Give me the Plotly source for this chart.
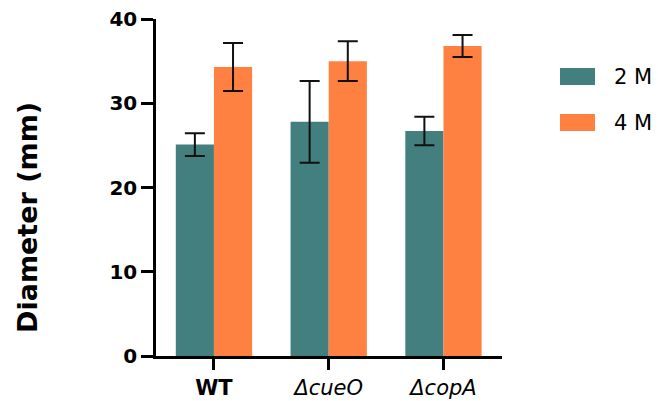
import plotly.graph_objects as go

categories = ["WT", "ΔcueO", "ΔcopA"]
tick_labels = ["<b>WT</b>", "<i>ΔcueO</i>", "<i>ΔcopA</i>"]
series_names = ["2 M", "4 M"]
means_2M = [25.1, 27.8, 26.7]
err_2M = [1.35, 4.85, 1.7]
means_4M = [34.3, 35.0, 36.8]
err_4M = [2.85, 2.35, 1.3]
y_ticks = [0, 10, 20, 30, 40]
y_title = "Diameter (mm)"

colors = ["#427F7E", "#FF8142"]
FONT = "DejaVu Sans"

fig = go.Figure()
for name, vals, errs, col in [(series_names[0], means_2M, err_2M, colors[0]),
                              (series_names[1], means_4M, err_4M, colors[1])]:
    fig.add_trace(go.Bar(
        x=categories, y=vals, name=name, marker=dict(color=col, line=dict(width=0)),
        error_y=dict(type="data", array=errs, visible=True, color="#111111",
                     thickness=2, width=10),
        showlegend=False,
    ))

W, H = 658, 401
L, T = 156, 19
R = W - L - 346
B = H - T - 337
fig.update_layout(
    width=W, height=H,
    margin=dict(l=L, r=R, t=T, b=B, autoexpand=False),
    paper_bgcolor="white", plot_bgcolor="white",
    barmode="group", bargap=0.335, bargroupgap=0,
    font=dict(family=FONT, color="black"),
)
fig.update_xaxes(
    range=[-0.505, 2.51], tickmode="array", tickvals=categories, ticktext=tick_labels,
    showline=True, linecolor="black", linewidth=2.5, ticks="outside", ticklen=11,
    tickwidth=2.5, tickcolor="black", tickfont=dict(size=21, family=FONT, color="black"),
    showgrid=False, zeroline=False, fixedrange=True, ticklabeloverflow="allow",
)
fig.update_yaxes(
    range=[0, 40], tickmode="array", tickvals=y_ticks,
    showline=True, linecolor="black", linewidth=2.5, ticks="outside", ticklen=12,
    tickwidth=2.5, tickcolor="black", ticklabeloverflow="allow",
    tickfont=dict(size=20, family=FONT, color="black", weight="bold"),
    showgrid=False, zeroline=False,
)

pw = W - L - R
ph = H - T - B
def px2x(px):
    return (px - L) / pw
def px2y(py):
    return 1 - (py - T) / ph

# y-axis title (placed where the reference has it, slightly below centre)
fig.add_annotation(xref="paper", yref="paper", x=px2x(27), y=px2y(218),
                   text="<b>" + y_title + "</b>", textangle=-90, showarrow=False,
                   xanchor="center", yanchor="middle",
                   font=dict(size=27, family=FONT, color="black"))

# custom legend (rectangular swatches)
swatch_rows = [(68, 85), (114, 131)]
for (y0, y1), col, name in zip(swatch_rows, colors, series_names):
    fig.add_shape(type="rect", xref="paper", yref="paper",
                  x0=px2x(560), x1=px2x(595), y0=px2y(y1), y1=px2y(y0),
                  fillcolor=col, line=dict(width=0))
    fig.add_annotation(xref="paper", yref="paper", x=px2x(612), y=px2y((y0 + y1) / 2),
                       text=name, showarrow=False, xanchor="left", yanchor="middle",
                       font=dict(size=21, family=FONT, color="black"))

fig.write_html("out.html", config={"displayModeBar": False},
               post_script="document.body.style.margin='0';document.body.style.overflow='hidden';")
